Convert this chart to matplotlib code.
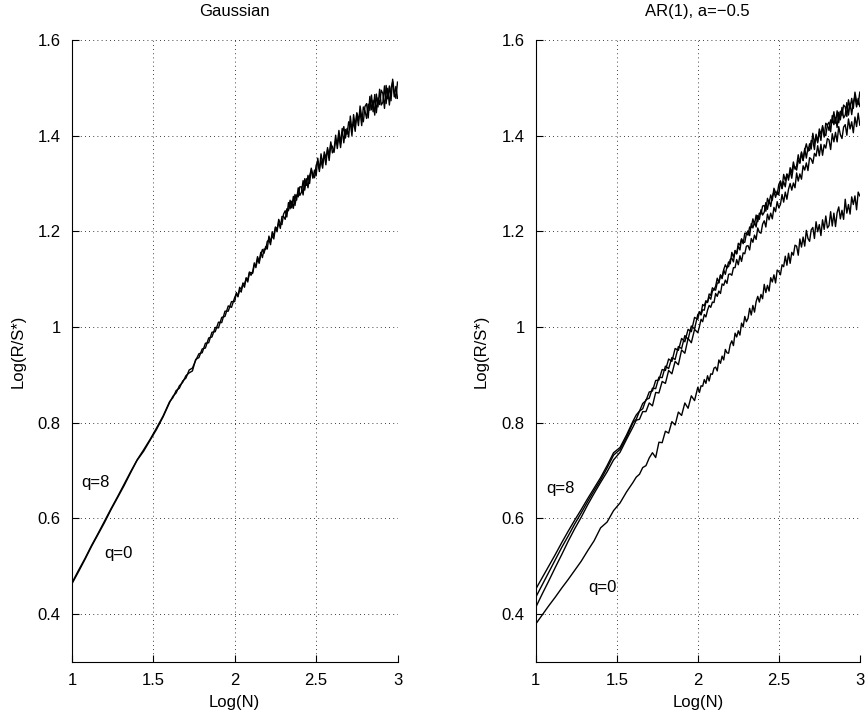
import numpy as np
import matplotlib
matplotlib.use("Agg")
import matplotlib.pyplot as plt

# ---- data -------------------------------------------------------------
# Log(N) sample grid
log_n = np.concatenate([np.linspace(1.00, 1.56, 15),
                        np.linspace(1.60, 2.00, 21),
                        np.linspace(2.01, 3.00, 100)])

# Gaussian panel
gauss_q0 = [0.463, 0.488, 0.514, 0.541, 0.566, 0.591, 0.618, 0.643, 0.668, 0.695, 0.721, 0.740, 0.763, 0.786, 0.812,
            0.842, 0.855, 0.862, 0.877, 0.884, 0.898, 0.904, 0.908, 0.932, 0.936, 0.954, 0.956, 0.977, 0.979, 0.999, 0.998, 1.020, 1.022, 1.044, 1.041, 1.062,
            1.069, 1.063, 1.083, 1.078, 1.089, 1.083, 1.103, 1.098, 1.115, 1.108,
            1.115, 1.134, 1.124, 1.142, 1.133, 1.151, 1.162, 1.154, 1.168, 1.163,
            1.190, 1.178, 1.191, 1.184, 1.209, 1.205, 1.219, 1.206, 1.231, 1.231,
            1.225, 1.247, 1.243, 1.265, 1.249, 1.273, 1.254, 1.276, 1.272, 1.293,
            1.293, 1.276, 1.310, 1.296, 1.317, 1.300, 1.332, 1.318, 1.312, 1.338,
            1.346, 1.325, 1.362, 1.343, 1.360, 1.339, 1.375, 1.357, 1.387, 1.364,
            1.371, 1.401, 1.373, 1.401, 1.375, 1.405, 1.419, 1.395, 1.415, 1.397,
            1.441, 1.411, 1.430, 1.409, 1.448, 1.432, 1.451, 1.421, 1.460, 1.452,
            1.436, 1.466, 1.453, 1.485, 1.450, 1.486, 1.448, 1.479, 1.465, 1.495,
            1.488, 1.457, 1.505, 1.477, 1.504, 1.473, 1.518, 1.491, 1.478, 1.512]
gauss_q8 = [0.465, 0.491, 0.516, 0.543, 0.568, 0.594, 0.620, 0.645, 0.671, 0.697, 0.722, 0.743, 0.765, 0.789, 0.814,
            0.844, 0.852, 0.867, 0.872, 0.887, 0.893, 0.910, 0.914, 0.930, 0.944, 0.946, 0.966, 0.967, 0.989, 0.990, 1.010, 1.009, 1.033, 1.033, 1.053, 1.053,
            1.072, 1.065, 1.077, 1.073, 1.092, 1.089, 1.101, 1.094, 1.113, 1.114,
            1.112, 1.129, 1.129, 1.147, 1.137, 1.156, 1.145, 1.163, 1.162, 1.179,
            1.182, 1.172, 1.199, 1.190, 1.208, 1.199, 1.225, 1.216, 1.214, 1.236,
            1.243, 1.230, 1.260, 1.247, 1.263, 1.248, 1.277, 1.265, 1.291, 1.275,
            1.282, 1.306, 1.286, 1.310, 1.291, 1.316, 1.329, 1.311, 1.328, 1.316,
            1.353, 1.330, 1.348, 1.332, 1.366, 1.353, 1.371, 1.348, 1.382, 1.377,
            1.365, 1.391, 1.383, 1.411, 1.383, 1.415, 1.385, 1.413, 1.403, 1.429,
            1.426, 1.400, 1.444, 1.420, 1.446, 1.421, 1.462, 1.439, 1.429, 1.461,
            1.467, 1.437, 1.482, 1.454, 1.474, 1.443, 1.487, 1.460, 1.497, 1.464,
            1.470, 1.504, 1.467, 1.499, 1.464, 1.499, 1.513, 1.481, 1.503, 1.478]

# AR(1), a=-0.5 panel (three upper curves of the q=8 group, and q=0)
ar_top1 = [0.452, 0.476, 0.500, 0.524, 0.549, 0.573, 0.596, 0.618, 0.641, 0.663, 0.685, 0.710, 0.737, 0.748, 0.774,
           0.803, 0.816, 0.824, 0.840, 0.846, 0.864, 0.866, 0.888, 0.889, 0.911, 0.909, 0.933, 0.928, 0.955, 0.951, 0.976, 0.969, 0.995, 0.990, 1.020, 1.016,
           1.032, 1.028, 1.047, 1.044, 1.055, 1.051, 1.069, 1.066, 1.082, 1.078,
           1.085, 1.102, 1.093, 1.109, 1.103, 1.120, 1.130, 1.123, 1.136, 1.132,
           1.156, 1.146, 1.159, 1.153, 1.175, 1.171, 1.184, 1.174, 1.196, 1.196,
           1.192, 1.209, 1.208, 1.226, 1.214, 1.234, 1.220, 1.238, 1.236, 1.253,
           1.254, 1.242, 1.269, 1.259, 1.276, 1.265, 1.290, 1.281, 1.277, 1.298,
           1.305, 1.290, 1.319, 1.306, 1.320, 1.307, 1.333, 1.322, 1.345, 1.330,
           1.337, 1.360, 1.342, 1.364, 1.348, 1.370, 1.383, 1.367, 1.383, 1.372,
           1.405, 1.384, 1.399, 1.385, 1.414, 1.403, 1.418, 1.397, 1.426, 1.422,
           1.411, 1.433, 1.427, 1.450, 1.426, 1.452, 1.427, 1.451, 1.442, 1.464,
           1.460, 1.440, 1.475, 1.457, 1.478, 1.457, 1.491, 1.472, 1.465, 1.491]
ar_top2 = [0.435, 0.461, 0.487, 0.513, 0.539, 0.563, 0.588, 0.611, 0.635, 0.658, 0.680, 0.705, 0.732, 0.744, 0.769,
           0.800, 0.807, 0.824, 0.829, 0.848, 0.851, 0.872, 0.871, 0.895, 0.894, 0.918, 0.913, 0.936, 0.932, 0.959, 0.955, 0.982, 0.974, 1.002, 0.996, 1.026,
           1.030, 1.025, 1.036, 1.035, 1.052, 1.052, 1.063, 1.058, 1.075, 1.078,
           1.077, 1.092, 1.092, 1.108, 1.101, 1.119, 1.110, 1.126, 1.126, 1.141,
           1.144, 1.136, 1.160, 1.153, 1.169, 1.161, 1.184, 1.177, 1.177, 1.195,
           1.201, 1.191, 1.216, 1.207, 1.219, 1.209, 1.233, 1.225, 1.245, 1.234,
           1.240, 1.260, 1.246, 1.265, 1.252, 1.272, 1.283, 1.271, 1.284, 1.276,
           1.305, 1.289, 1.304, 1.293, 1.319, 1.312, 1.326, 1.311, 1.336, 1.334,
           1.328, 1.348, 1.344, 1.366, 1.348, 1.373, 1.353, 1.375, 1.369, 1.390,
           1.389, 1.371, 1.403, 1.388, 1.407, 1.390, 1.421, 1.405, 1.400, 1.423,
           1.428, 1.408, 1.442, 1.423, 1.438, 1.417, 1.449, 1.433, 1.459, 1.437,
           1.443, 1.469, 1.443, 1.468, 1.444, 1.470, 1.482, 1.460, 1.478, 1.461]
ar_mid = [0.414, 0.442, 0.469, 0.497, 0.524, 0.552, 0.578, 0.602, 0.628, 0.652, 0.675, 0.697, 0.722, 0.738, 0.765,
          0.791, 0.805, 0.807, 0.823, 0.823, 0.841, 0.835, 0.863, 0.862, 0.886, 0.882, 0.909, 0.902, 0.928, 0.921, 0.952, 0.945, 0.976, 0.967, 0.995, 0.988,
          1.001, 1.016, 1.011, 1.026, 1.021, 1.035, 1.045, 1.041, 1.052, 1.051,
          1.070, 1.064, 1.075, 1.070, 1.090, 1.087, 1.098, 1.091, 1.110, 1.111,
          1.108, 1.124, 1.124, 1.141, 1.130, 1.149, 1.137, 1.155, 1.153, 1.169,
          1.170, 1.161, 1.185, 1.177, 1.192, 1.183, 1.207, 1.198, 1.196, 1.215,
          1.222, 1.209, 1.236, 1.224, 1.238, 1.226, 1.250, 1.241, 1.262, 1.249,
          1.256, 1.277, 1.261, 1.282, 1.267, 1.288, 1.300, 1.286, 1.301, 1.291,
          1.322, 1.305, 1.320, 1.309, 1.337, 1.328, 1.343, 1.327, 1.354, 1.351,
          1.342, 1.363, 1.357, 1.379, 1.358, 1.382, 1.359, 1.381, 1.374, 1.394,
          1.391, 1.371, 1.404, 1.387, 1.407, 1.387, 1.419, 1.402, 1.394, 1.418,
          1.423, 1.401, 1.435, 1.414, 1.429, 1.406, 1.439, 1.419, 1.447, 1.422]
ar_q0 = [0.379, 0.398, 0.417, 0.435, 0.454, 0.472, 0.491, 0.510, 0.532, 0.553, 0.580, 0.592, 0.616, 0.632, 0.655,
         0.675, 0.686, 0.692, 0.706, 0.710, 0.726, 0.737, 0.727, 0.759, 0.758, 0.782, 0.778, 0.802, 0.795, 0.822, 0.815, 0.841, 0.830, 0.856, 0.846, 0.874,
         0.863, 0.877, 0.876, 0.890, 0.882, 0.898, 0.887, 0.902, 0.901, 0.914,
         0.916, 0.908, 0.931, 0.924, 0.939, 0.931, 0.953, 0.946, 0.945, 0.963,
         0.971, 0.961, 0.987, 0.979, 0.992, 0.983, 1.008, 1.000, 1.022, 1.011,
         1.018, 1.039, 1.025, 1.045, 1.031, 1.053, 1.064, 1.052, 1.068, 1.059,
         1.089, 1.072, 1.087, 1.075, 1.103, 1.094, 1.109, 1.092, 1.119, 1.116,
         1.109, 1.130, 1.126, 1.148, 1.129, 1.154, 1.133, 1.156, 1.150, 1.171,
         1.169, 1.150, 1.184, 1.167, 1.188, 1.169, 1.202, 1.185, 1.179, 1.203,
         1.208, 1.185, 1.220, 1.199, 1.214, 1.191, 1.224, 1.204, 1.232, 1.207,
         1.212, 1.241, 1.211, 1.238, 1.210, 1.239, 1.251, 1.226, 1.244, 1.225,
         1.267, 1.238, 1.256, 1.236, 1.272, 1.256, 1.274, 1.245, 1.282, 1.274]

titles = ["Gaussian", "AR(1), a=\u22120.5"]
x_ticks = [1, 1.5, 2, 2.5, 3]
x_tick_labels = ["1", "1.5", "2", "2.5", "3"]
y_ticks = [0.4, 0.6, 0.8, 1.0, 1.2, 1.4, 1.6]
y_tick_labels = ["0.4", "0.6", "0.8", "1", "1.2", "1.4", "1.6"]

for arr in (gauss_q0, gauss_q8, ar_top1, ar_top2, ar_mid, ar_q0):
    assert len(arr) == len(log_n)

# ---- figure -----------------------------------------------------------
plt.rcParams['font.family'] = ['Liberation Sans', 'DejaVu Sans']
fig = plt.figure(figsize=(8.67, 7.17), dpi=100)
ax1 = fig.add_axes([0.083, 0.0771, 0.3755, 0.8671])
ax2 = fig.add_axes([0.618, 0.0771, 0.3737, 0.8671])

lw = 1.0
ax1.plot(log_n, gauss_q0, color='black', lw=lw)
ax1.plot(log_n, gauss_q8, color='black', lw=lw)
ax2.plot(log_n, ar_top1, color='black', lw=lw)
ax2.plot(log_n, ar_top2, color='black', lw=lw)
ax2.plot(log_n, ar_mid, color='black', lw=lw)
ax2.plot(log_n, ar_q0, color='black', lw=lw)

ax1.text(1.06, 0.675, "q=8", fontsize=12, va='center', ha='left')
ax1.text(1.20, 0.527, "q=0", fontsize=12, va='center', ha='left')
ax2.text(1.066, 0.662, "q=8", fontsize=12, va='center', ha='left')
ax2.text(1.323, 0.456, "q=0", fontsize=12, va='center', ha='left')

for ax, title in zip((ax1, ax2), titles):
    ax.set_xlim(1, 3)
    ax.set_ylim(0.3, 1.6)
    ax.set_xticks(x_ticks)
    ax.set_xticklabels(x_tick_labels)
    ax.set_yticks(y_ticks)
    ax.set_yticklabels(y_tick_labels)
    ax.tick_params(direction='in', length=5, width=0.8, labelsize=12, pad=8,
                   top=False, right=False)
    ax.spines['top'].set_visible(False)
    ax.spines['right'].set_visible(False)
    ax.spines['left'].set_linewidth(0.8)
    ax.spines['bottom'].set_linewidth(0.8)
    ax.grid(True, color='black', linestyle=(0, (1, 4)), linewidth=0.6)
    ax.set_axisbelow(True)
    ax.set_xlabel("Log(N)", fontsize=12, labelpad=5)
    ax.set_ylabel("Log(R/S*)", fontsize=12, labelpad=9)
    ax.set_title(title, fontsize=12, pad=17)
    for side in ('left', 'bottom'):
        ax.spines[side].set_zorder(3)

fig.savefig("out.png", dpi=100)
